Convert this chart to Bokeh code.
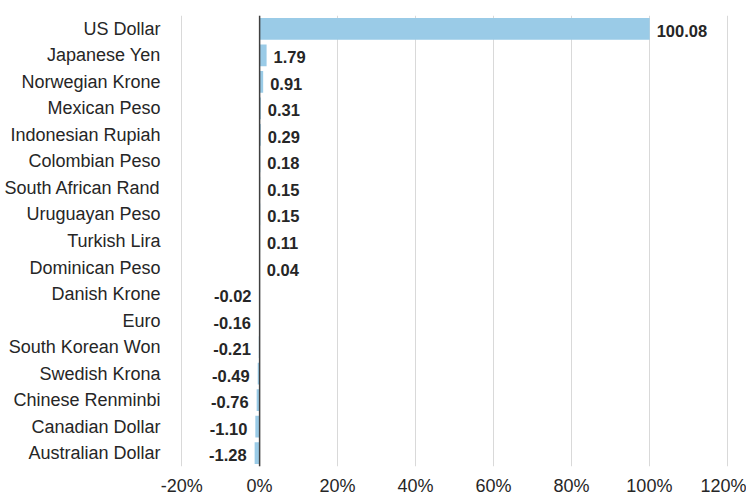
from bokeh.plotting import figure
from bokeh.models import ColumnDataSource, FactorRange, Range1d, Span, PrintfTickFormatter, FixedTicker
from bokeh.embed import file_html
from bokeh.resources import INLINE
from bokeh.core.properties import value

currencies = ["US Dollar", "Japanese Yen", "Norwegian Krone", "Mexican Peso",
              "Indonesian Rupiah", "Colombian Peso", "South African Rand",
              "Uruguayan Peso", "Turkish Lira", "Dominican Peso", "Danish Krone",
              "Euro", "South Korean Won", "Swedish Krona", "Chinese Renminbi",
              "Canadian Dollar", "Australian Dollar"]
values = [100.08, 1.79, 0.91, 0.31, 0.29, 0.18, 0.15, 0.15, 0.11, 0.04,
          -0.02, -0.16, -0.21, -0.49, -0.76, -1.10, -1.28]
x_ticks = [-20, 0, 20, 40, 60, 80, 100, 120]

p = figure(width=746, height=498, output_backend="svg", toolbar_location=None,
           y_range=FactorRange(*reversed(currencies)), x_range=Range1d(-20.3, 120.3),
           min_border_left=180, min_border_right=18, min_border_top=15, min_border_bottom=30)
p.outline_line_color = None
p.background_fill_color = "white"
p.border_fill_color = "white"

src = ColumnDataSource(dict(cur=currencies, val=values))
p.hbar(y="cur", right="val", left=0, height=0.82, source=src,
       fill_color="#9ACBE7", line_color=None)

pos = [i for i, v in enumerate(values) if v >= 0]
neg = [i for i, v in enumerate(values) if v < 0]
src_pos = ColumnDataSource(dict(cur=[currencies[i] for i in pos], val=[values[i] for i in pos],
                                lab=["%.2f" % values[i] for i in pos]))
src_neg = ColumnDataSource(dict(cur=[currencies[i] for i in neg], val=[values[i] for i in neg],
                                lab=["%.2f" % values[i] for i in neg]))
common = dict(text="lab", text_font=value("Liberation Sans"), text_font_style="bold",
              text_font_size="16.5px", text_color="#262626", text_baseline="middle", y_offset=2)
p.text(x="val", y="cur", source=src_pos, text_align="left", x_offset=7, **common)
p.text(x="val", y="cur", source=src_neg, text_align="right", x_offset=-8, **common)

p.add_layout(Span(location=0, dimension="height", line_color="#404040", line_width=1.5))

p.xgrid.ticker = FixedTicker(ticks=x_ticks)
p.xgrid.grid_line_color = "#D9D9D9"
p.xgrid.grid_line_width = 1
p.ygrid.grid_line_color = None

p.xaxis.ticker = FixedTicker(ticks=x_ticks)
p.xaxis.formatter = PrintfTickFormatter(format="%d%%")
p.xaxis.axis_line_color = None
p.xaxis.major_tick_line_color = None
p.xaxis.minor_tick_line_color = None
p.xaxis.major_tick_out = 0
p.xaxis.major_label_standoff = 9
p.xaxis.major_label_text_font = "Liberation Sans"
p.xaxis.major_label_text_font_size = "18px"
p.xaxis.major_label_text_color = "#262626"

p.yaxis.axis_line_color = None
p.yaxis.major_tick_line_color = None
p.yaxis.major_tick_out = 0
p.yaxis.major_label_standoff = 20
p.yaxis.major_label_text_font = "Liberation Sans"
p.yaxis.major_label_text_font_size = "18px"
p.yaxis.major_label_text_color = "#262626"

open("out.html", "w").write(file_html(p, INLINE))
